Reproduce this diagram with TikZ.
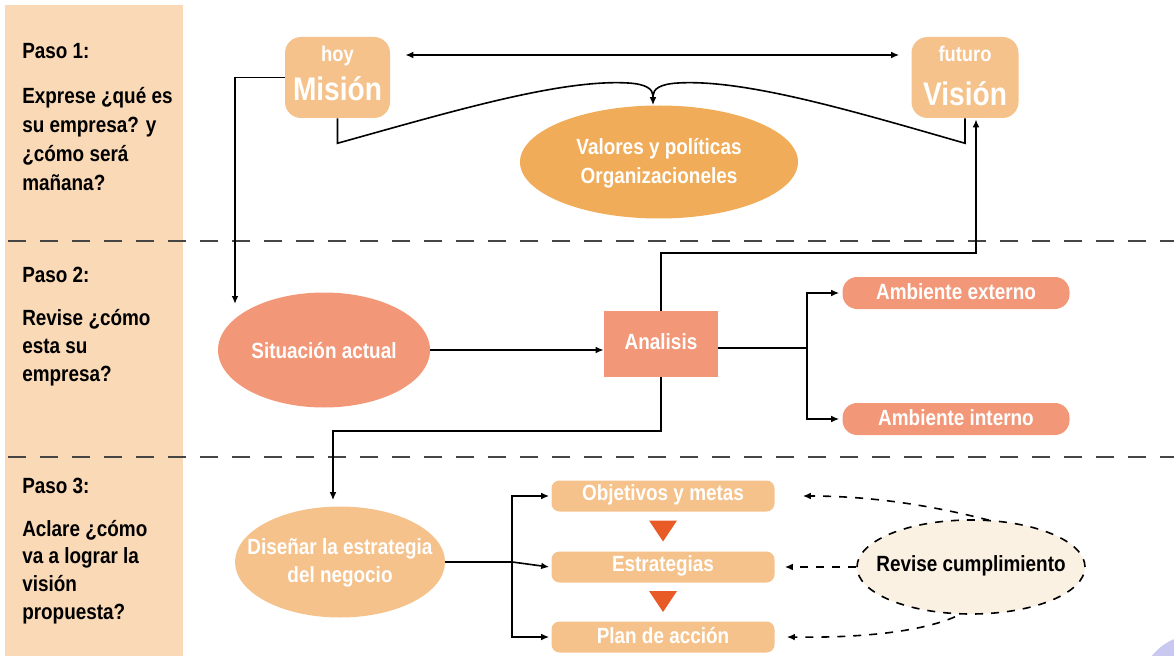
\documentclass[tikz,border=0pt]{standalone}
\usepackage{fontspec}
\setmainfont{Liberation Sans}[FakeStretch=0.86]
\usetikzlibrary{calc,arrows.meta,shapes.geometric}
\definecolor{panelc}{HTML}{FAD9B6}
\definecolor{lightor}{HTML}{F6C28B}
\definecolor{midor}{HTML}{F0AC58}
\definecolor{salmon}{HTML}{F29878}
\definecolor{trired}{HTML}{E85A26}
\definecolor{creamc}{HTML}{FBF1E2}
\definecolor{dashc}{HTML}{454545}
\definecolor{lavc}{HTML}{C8C8F0}
\begin{document}
\begin{tikzpicture}[x=0.75pt,y=-0.75pt,
  conn/.style={line width=1.2pt,draw=black},
  arr/.style={conn,-{Latex[length=6pt,width=5pt]}},
  dasharr/.style={line width=1.2pt,dash pattern=on 6pt off 6pt,-{Latex[length=6pt,width=5pt]}},
  sepline/.style={line width=1.8pt,draw=dashc,dash pattern=on 13.5pt off 10.5pt},
  ptext/.style={font=\fontsize{16.5}{20}\selectfont\bfseries,text=black,inner sep=0pt,anchor=base west},
  wtext/.style={font=\fontsize{16.5}{21.5}\selectfont\bfseries,text=white,inner sep=0pt,align=center},
  smalltop/.style={font=\fontsize{16}{18}\selectfont\bfseries,text=white,anchor=base,inner sep=0pt},
  bigtop/.style={font=\fontsize{24.5}{28}\selectfont\bfseries,text=white,anchor=base,inner sep=0pt},
  topbox/.style={fill=lightor,rounded corners=12pt,inner sep=0pt,minimum height=60.75pt},
  pill/.style={fill=salmon,rounded corners=11pt,inner sep=0pt,minimum width=170.25pt,minimum height=24pt},
  stepbox/.style={fill=lightor,rounded corners=6pt,inner sep=0pt,minimum width=167.25pt,minimum height=23.25pt},
  ell/.style={ellipse,inner sep=0pt}]
\useasboundingbox (0,0) rectangle (1174,656);
% left panel
\fill[panelc] (5,5) rectangle (183,660);
% separators
\draw[sepline] (8,241) -- (1174,241);
\draw[sepline] (8,457) -- (1174,457);
% panel texts
\node[ptext] (p1) at (22,59) {Paso 1:};
\foreach \t [count=\i] in {Exprese ¿qué es,su empresa? y,¿cómo será,mañana?}
  \node[ptext] (pa\i) at (22,{104+28.8*(\i-1)}) {\t};
\node[ptext] (p2) at (22,282) {Paso 2:};
\foreach \t [count=\i] in {Revise ¿cómo,esta su,empresa?}
  \node[ptext] (pb\i) at (22,{325+28.2*(\i-1)}) {\t};
\node[ptext] (p3) at (22,493) {Paso 3:};
\foreach \t [count=\i] in {Aclare ¿cómo,va a lograr la,visión,propuesta?}
  \node[ptext] (pc\i) at (22,{536+27.7*(\i-1)}) {\t};
% row 1
\node[topbox,minimum width=78.75pt] (misA) at (337.5,77.5) {};
\node[smalltop] (misH) at (337.5,62) {hoy};
\node[bigtop] (misT) at (337.5,101) {Misión};
\node[topbox,minimum width=80.25pt] (visA) at (965,77.5) {};
\node[smalltop] (visH) at (965,62) {futuro};
\node[bigtop] (visT) at (965,106) {Visión};
\node[ell,fill=midor,minimum width=208.5pt,minimum height=84.75pt] (valA) at (659,162) {};
\node[wtext] (valT) at (659,163) {Valores y políticas\\Organizacioneles};
\draw[conn,<->,>={Latex[length=6pt,width=5pt]}] ($(misA.east)+(15,-22.5)$) -- ($(visA.west)+(-12,-22.5)$);
\draw[arr] (misA.south) -- ++(0,25) .. controls (450,112) and (560,79) .. (628,83)
   .. controls (646,84) and (653,89) .. (653,96) -- (valA.north -| 653,0);
\draw[conn] (visA.south) -- ++(0,25) .. controls (856,112) and (746,79) .. (678,83)
   .. controls (660,84) and (653,89) .. (653,96);
% row 2
\node[ell,fill=salmon,minimum width=159pt,minimum height=86.25pt] (sitA) at (324,350) {};
\node[wtext] (sitT) at (324,351) {Situación actual};
\node[fill=salmon,inner sep=0pt,minimum width=85.5pt,minimum height=49.5pt] (anA) at (661,344) {};
\node[wtext] (anT) at (661,342) {Analisis};
\node[pill] (extA) at (956,293) {};
\node[wtext] (extT) at (956,292) {Ambiente externo};
\node[pill] (intA) at (956,419) {};
\node[wtext] (intT) at (956,418) {Ambiente interno};
\coordinate (sitIn) at (235,304);
\draw[arr] (misA.west) -| (sitIn);
\draw[arr] (sitA.east) -- (sitA.east -| anA.west);
\draw[arr] (anA.north) |- ($(visA.south)+(11,135)$) -- ($(visA.south)+(11,1)$);
\coordinate (br) at ($(anA.east)+(89,4)$);
\draw[conn] (anA.east |- br) -- (br);
\draw[arr] (br) |- ($(extA.west)+(-3,0)$);
\draw[arr] (br) |- ($(intA.west)+(-3,0)$);
% row 3
\node[ell,fill=lightor,minimum width=157.5pt,minimum height=83.25pt] (disA) at (340,562) {};
\node[wtext] (disT) at (340,563) {Diseñar la estrategia\\del negocio};
\draw[arr] (anA.south) |- ($(disA.north)+(-7,-75)$) -- ($(disA.north)+(-7,-6)$);
\node[stepbox] (objA) at (663,496) {};
\node[wtext] (objT) at (663,495) {Objetivos y metas};
\node[stepbox] (estA) at (663,567) {};
\node[wtext] (estT) at (663,566) {Estrategias};
\node[stepbox] (planA) at (663,637) {};
\node[wtext] (planT) at (663,636) {Plan de acción};
\coordinate (bk) at ($(disA.east)+(67,0)$);
\draw[conn] (disA.east) -- (bk);
\draw[arr] (bk) |- ($(objA.west)+(-2,0)$);
\draw[arr] (bk |- objA.west) |- ($(planA.west)+(-2,0)$);
\draw[arr] (bk) -- ($(estA.west)+(-2,0)$);
\coordinate (tr1) at ($(objA.south)!0.5!(estA.north)$);
\coordinate (tr2) at ($(estA.south)!0.5!(planA.north)$);
\fill[trired] ($(tr1)+(-14,-11)$) -- ($(tr1)+(14,-11)$) -- ($(tr1)+(0,10)$) -- cycle;
\fill[trired] ($(tr2)+(-14,-11)$) -- ($(tr2)+(14,-11)$) -- ($(tr2)+(0,10)$) -- cycle;
\node[ell,fill=creamc,draw=black,line width=1.2pt,dash pattern=on 6pt off 6pt,minimum width=171pt,minimum height=70.5pt] (revA) at (971,567) {};
\node[font=\fontsize{16.5}{20}\selectfont\bfseries,text=black,inner sep=0pt] (revT) at (971,566) {Revise cumplimiento};
\draw[dasharr] ($(revA.north)+(18,1)$) .. controls (930,505) and (870,496) .. ($(objA.east)+(28,0)$);
\draw[dasharr] (revA.west) -- ($(estA.east)+(10,0)$);
\draw[dasharr] ($(revA.south)+(-16,2)$) .. controls (920,632) and (860,638) .. ($(planA.east)+(12,0)$);
% corner circle
\begin{scope}
\clip (0,0) rectangle (1174,656);
\fill[lavc] (1195,690) circle[radius=55];
\end{scope}
\end{tikzpicture}
\end{document}
